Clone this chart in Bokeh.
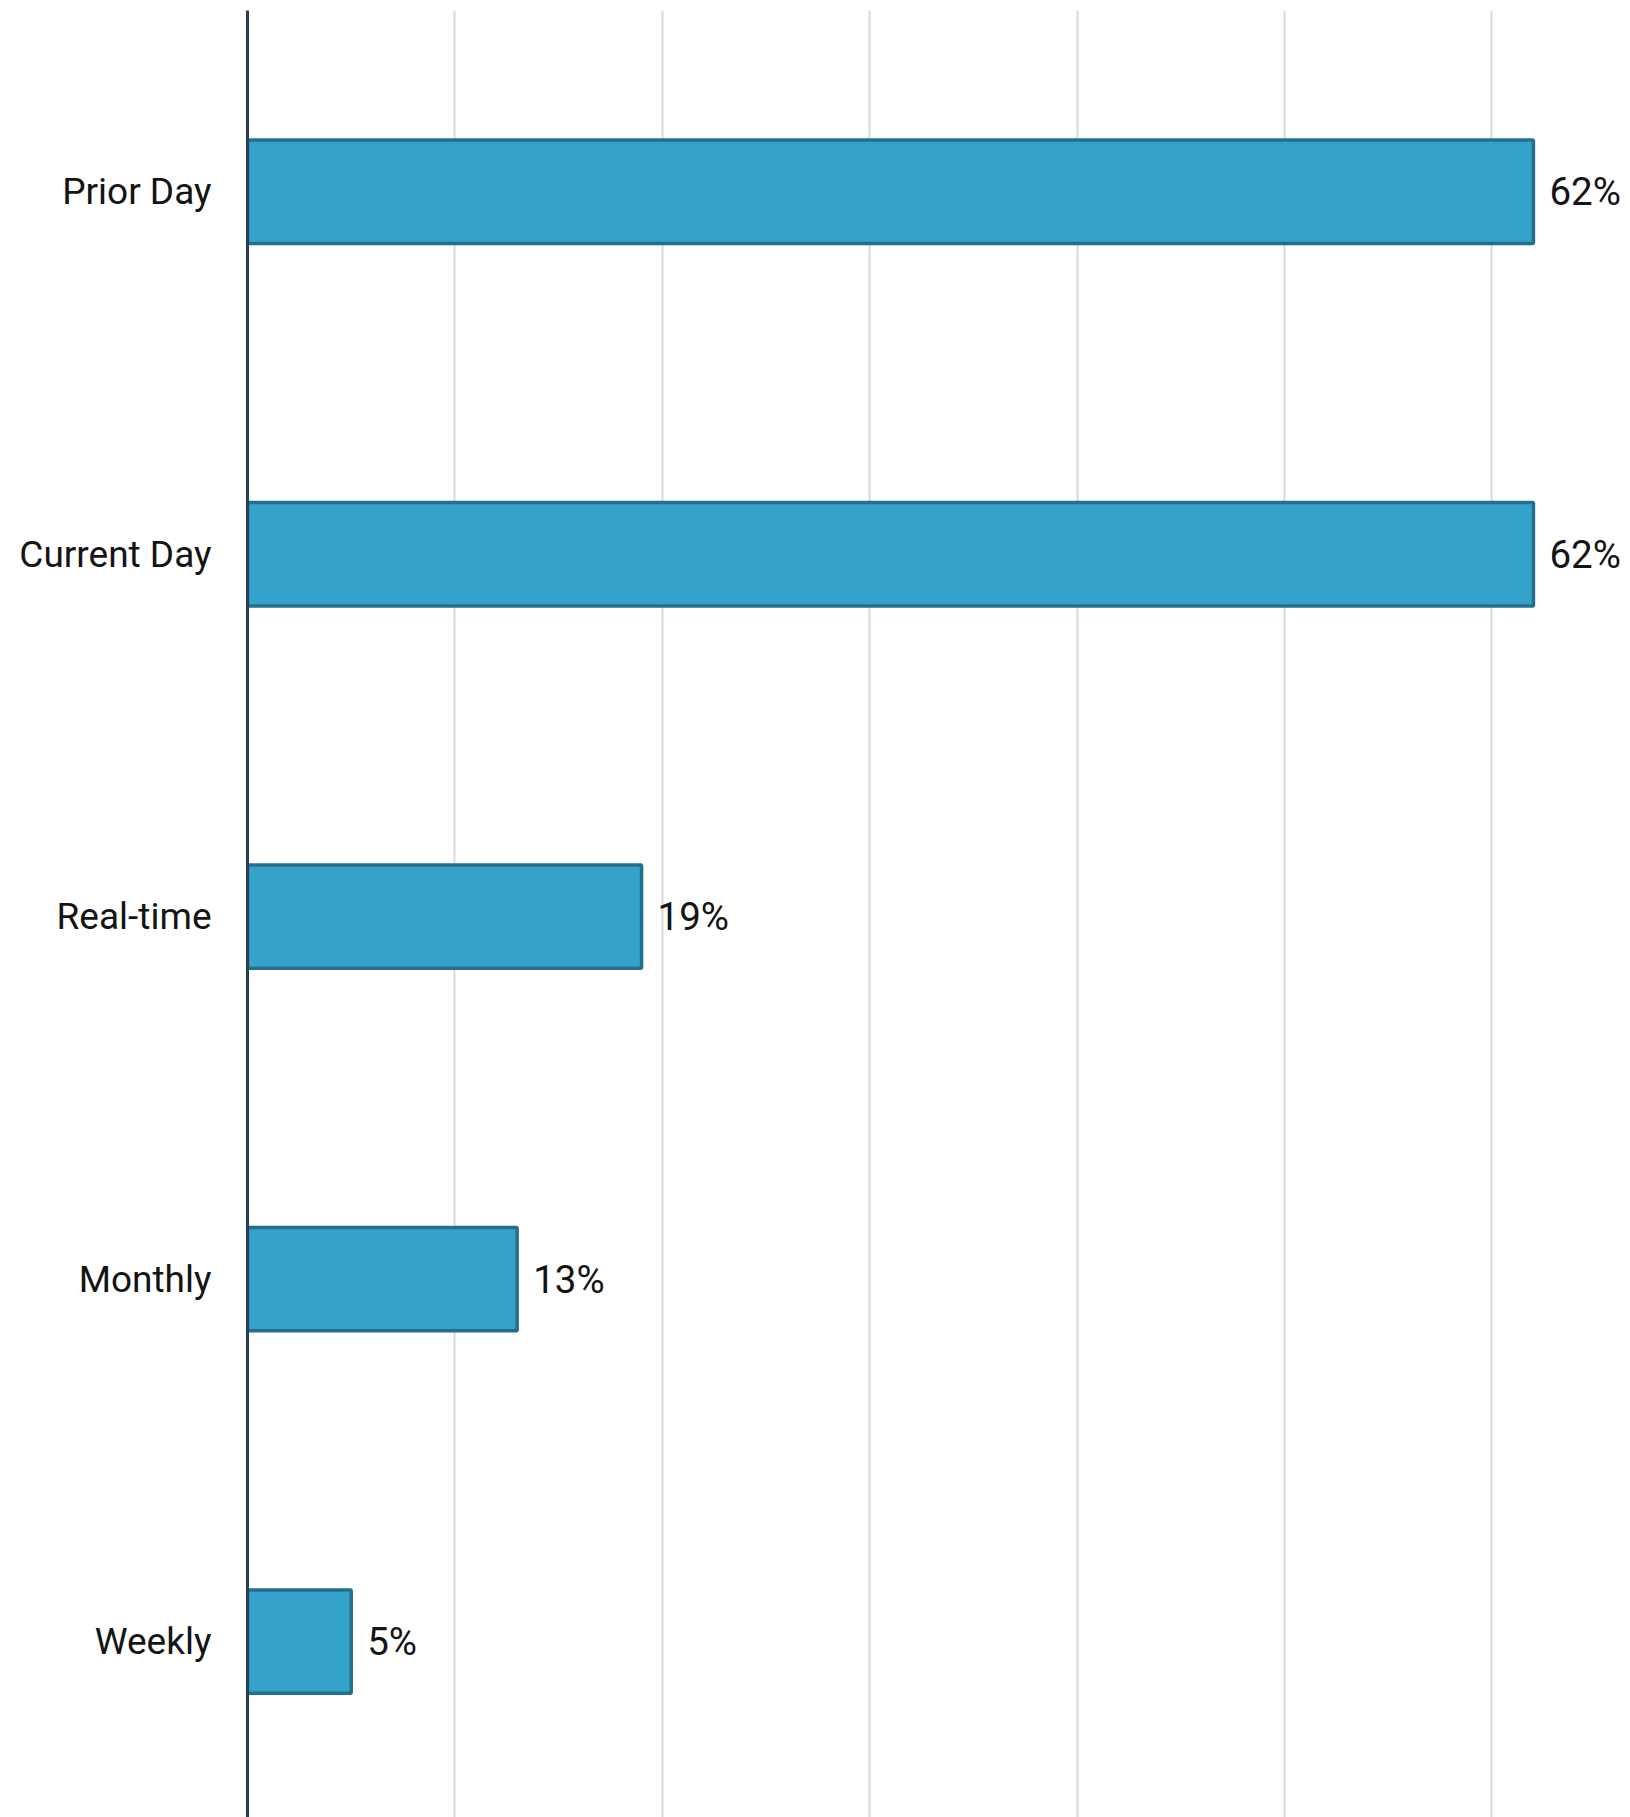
from bokeh.plotting import figure
from bokeh.models import ColumnDataSource, Range1d, FixedTicker
from bokeh.core.properties import value
from bokeh.embed import file_html
from bokeh.resources import INLINE

categories = ["Prior Day", "Current Day", "Real-time", "Monthly", "Weekly"]
values = [62, 62, 19, 13, 5]
labels = ["62%", "62%", "19%", "13%", "5%"]
grid_ticks = [10, 20, 30, 40, 50, 60]

n = len(categories)
ypos = [n - 1 - i for i in range(n)]

src = ColumnDataSource(dict(y=ypos, v=values, lab=labels, cat=categories))

p = figure(width=1630, height=1817, output_backend="svg", toolbar_location=None,
           x_range=Range1d(0, 66.68), y_range=Range1d(-0.485, n - 0.5),
           min_border_left=247, min_border_right=0, min_border_top=10, min_border_bottom=0)
p.outline_line_color = None
p.background_fill_color = "white"
p.border_fill_color = "white"

p.hbar(y="y", left=0, right="v", height=0.285, source=src,
       fill_color="#35a2cb", line_color="#246f8c", line_width=3.5)

p.text(x="v", y="y", text="lab", source=src, x_offset=16,
       text_align="left", text_baseline="middle",
       text_font=value("Roboto"), text_font_size="38.5px", text_color="#141414")

p.xaxis.visible = False
p.xgrid.ticker = FixedTicker(ticks=grid_ticks)
p.xgrid.grid_line_color = "#d9d9d9"
p.xgrid.grid_line_width = 2
p.ygrid.visible = False

p.yaxis.ticker = FixedTicker(ticks=ypos)
p.yaxis.major_label_overrides = {y: c for y, c in zip(ypos, categories)}
p.yaxis.axis_line_color = "#2b3e50"
p.yaxis.axis_line_width = 3
p.yaxis.major_tick_line_color = None
p.yaxis.minor_tick_line_color = None
p.yaxis.major_label_standoff = 30
p.yaxis.major_label_text_font = "Roboto"
p.yaxis.major_label_text_font_size = "37px"
p.yaxis.major_label_text_color = "#141414"

open("out.html", "w").write(file_html(p, INLINE))
